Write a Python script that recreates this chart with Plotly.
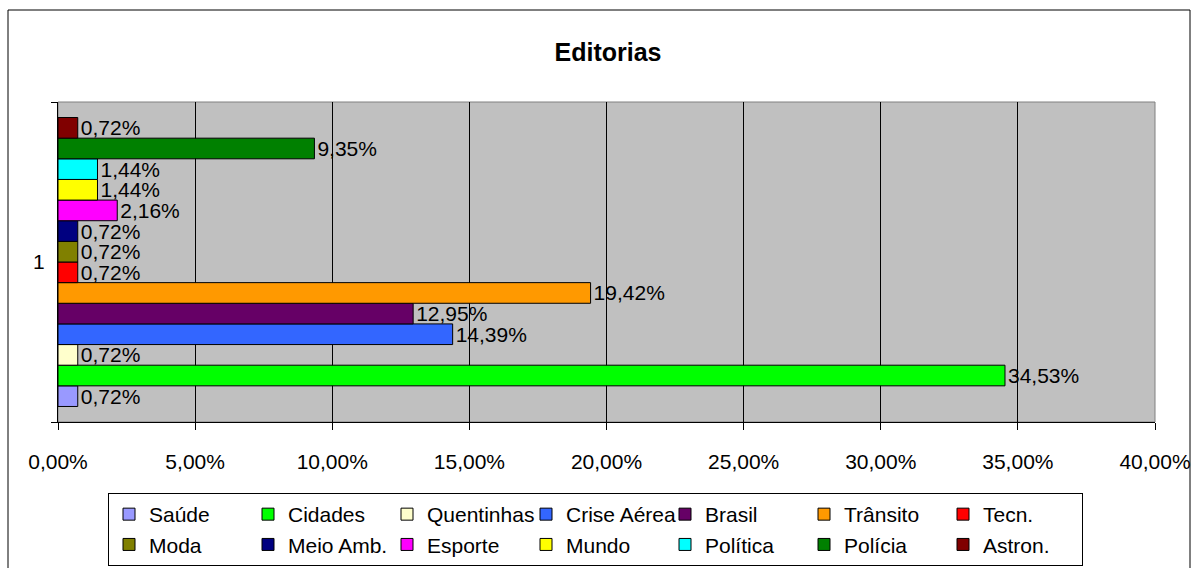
import plotly.graph_objects as go

# Editorias - share of articles per section (single category "1")
categories = ["1"]
series = [
    "Saúde", "Cidades", "Quentinhas", "Crise Aérea", "Brasil", "Trânsito", "Tecn.",
    "Moda", "Meio Amb.", "Esporte", "Mundo", "Política", "Polícia", "Astron.",
]
values = [
    0.0072, 0.3453, 0.0072, 0.1439, 0.1295, 0.1942, 0.0072,
    0.0072, 0.0072, 0.0216, 0.0144, 0.0144, 0.0935, 0.0072,
]
colors = [
    "#9999FF", "#00FF00", "#FFFFCC", "#3366FF", "#660066", "#FF9900", "#FF0000",
    "#808000", "#000080", "#FF00FF", "#FFFF00", "#00FFFF", "#008000", "#800000",
]

FONT = "Liberation Sans, Arial, sans-serif"
W, H = 1194, 568
L, R, T, B = 58, 1155, 102, 422  # plot area in pixels


def px_x(p):
    return (p - L) / (R - L)


def px_y(p):
    return (B - p) / (B - T)


fig = go.Figure()
for name, val, col in zip(series, values, colors):
    fig.add_trace(go.Bar(
        y=categories, x=[val], name=name, orientation="h",
        marker=dict(color=col, line=dict(color="black", width=1)),
        text=[val], texttemplate="%{x:.2%}", textposition="outside",
        textfont=dict(size=21, color="black", family=FONT),
        constraintext="none", cliponaxis=False,
    ))

fig.update_layout(
    width=W, height=H,
    margin=dict(l=L, r=W - R, t=T, b=H - B, pad=0, autoexpand=False),
    paper_bgcolor="white", plot_bgcolor="#C0C0C0",
    separators=",.",
    barmode="group", bargap=0.097, bargroupgap=0,
    font=dict(family=FONT, size=21, color="black"),
    title=dict(text="<b>Editorias</b>", x=608 / W, xanchor="center",
               y=1 - 52 / H, yanchor="middle", font=dict(size=25)),
    showlegend=True,
    legend=dict(
        orientation="h", x=px_x(108), xanchor="left", y=px_y(493), yanchor="top",
        bordercolor="black", borderwidth=1, bgcolor="white",
        entrywidth=94, entrywidthmode="pixels", traceorder="normal",
        font=dict(size=21), itemclick=False, itemwidth=30,
    ),
    shapes=[
        dict(type="rect", xref="paper", yref="paper", x0=0, x1=1, y0=0, y1=1,
             line=dict(color="#808080", width=1), layer="below"),
        dict(type="rect", xref="paper", yref="paper",
             x0=px_x(8), x1=px_x(1190), y0=px_y(10), y1=px_y(575),
             line=dict(color="black", width=1)),
    ],
)

fig.update_xaxes(
    range=[0, 0.4], dtick=0.05, tickformat=".2%",
    showgrid=True, gridcolor="black", gridwidth=1,
    showline=True, linecolor="black", linewidth=1,
    ticks="outside", ticklen=7, tickcolor="black", ticklabelstandoff=14,
    zeroline=False,
)
fig.update_yaxes(
    showgrid=False, showline=True, linecolor="black", linewidth=1,
    ticks="outside", ticklen=6, tickcolor="black", tickson="boundaries",
    ticklabelstandoff=8,
)

fig.write_html("out.html", config={"displayModeBar": False},
               post_script="document.body.style.margin='0';")
